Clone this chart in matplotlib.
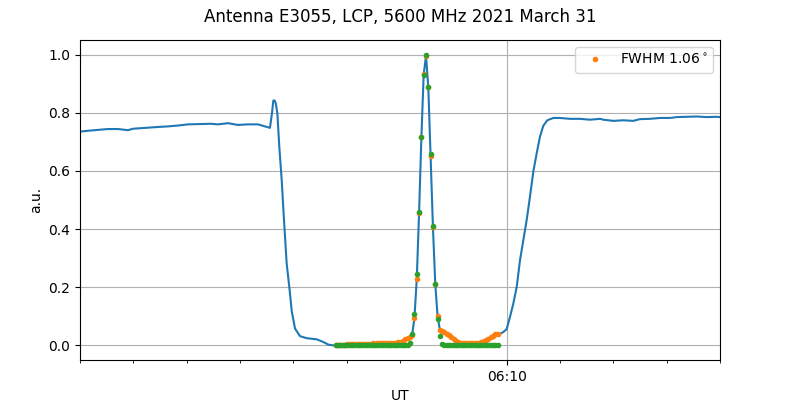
"""Antenna scan plot: LCP 5600 MHz."""

import matplotlib

matplotlib.use("Agg")
import matplotlib.dates as mdates
import matplotlib.pyplot as plt
import numpy as np

title = "Antenna E3055, LCP, 5600 MHz 2021 March 31"
day_start = np.datetime64("2021-03-31T06:00:00")

# blue trace before the scan window (seconds after 06:00, a.u.)
pre_t = [120, 129, 140.2, 151.5, 162.7, 174, 179.6, 193.1, 207.7, 219,
         230.2, 241.5, 252.7, 267.4, 275.2, 286.5, 297.7, 309, 320.2, 328.1,
         333.7, 336.0, 337.5, 339.0, 340.2, 342.0, 344.2, 346.9, 349.5, 352.5,
         355.5, 358.2, 361.9, 367.5, 375.0, 386.3, 393.7, 399.3, 405.0]
pre_v = [0.735, 0.738, 0.741, 0.744, 0.744, 0.740, 0.745, 0.748, 0.751, 0.753,
         0.756, 0.760, 0.761, 0.762, 0.760, 0.764, 0.758, 0.760, 0.760, 0.753,
         0.748, 0.799, 0.842, 0.842, 0.833, 0.799, 0.684, 0.569, 0.431, 0.282,
         0.200, 0.118, 0.058, 0.032, 0.025, 0.021, 0.012, 0.003, 0.0]

# scan window samples
win_start = 407.85
win_step = 2.6
scan_raw = [0.002, 0.002, 0.003, 0.003, 0.003, 0.004, 0.004, 0.004, 0.005, 0.004,
            0.005, 0.005, 0.006, 0.005, 0.006, 0.006, 0.007, 0.006, 0.007, 0.007,
            0.008, 0.008, 0.008, 0.009, 0.009, 0.010, 0.010, 0.011, 0.012, 0.016,
            0.021, 0.026, 0.030, 0.036, 0.095, 0.228, 0.455, 0.715, 0.932, 0.995,
            0.887, 0.652, 0.408, 0.212, 0.101, 0.054, 0.050, 0.046, 0.041, 0.035,
            0.028, 0.022, 0.017, 0.013, 0.010, 0.009, 0.008, 0.008, 0.007, 0.007,
            0.008, 0.008, 0.009, 0.011, 0.014, 0.018, 0.023, 0.029, 0.034, 0.038,
            0.040]
scan_corr = [0.0, 0.0, 0.0, 0.0, 0.0, 0.0, 0.0, 0.0, 0.0, 0.0,
             0.0, 0.0, 0.0, 0.0, 0.0, 0.0, 0.0, 0.0, 0.0, 0.0,
             0.0, 0.0, 0.0, 0.0, 0.0, 0.0, 0.0, 0.0, 0.0, 0.0,
             0.0, 0.002, 0.008, 0.038, 0.107, 0.245, 0.460, 0.717, 0.928, 1.0,
             0.890, 0.658, 0.410, 0.210, 0.092, 0.033, 0.006, 0.0, 0.0, 0.0,
             0.0, 0.0, 0.0, 0.0, 0.0, 0.0, 0.0, 0.0, 0.0, 0.0,
             0.0, 0.0, 0.0, 0.0, 0.0, 0.0, 0.0, 0.0, 0.0, 0.0,
             0.0]
fwhm_label = r"FWHM 1.06$^\circ$"

# blue trace after the scan window
post_t = [592.5, 596.2, 600.0, 603.7, 607.5, 611.3, 615.0, 618.7, 622.5, 626.2,
          630.0, 633.8, 637.5, 641.2, 645.7, 652.5, 660.0, 671.2, 682.5, 693.7,
          705.0, 708.7, 720.0, 731.2, 742.5, 750.0, 761.2, 772.5, 783.7, 791.3,
          802.5, 813.7, 825.0, 836.2, 840.0]
post_v = [0.040, 0.046, 0.056, 0.098, 0.144, 0.201, 0.293, 0.362, 0.431, 0.511,
          0.598, 0.661, 0.718, 0.755, 0.774, 0.782, 0.782, 0.779, 0.779, 0.776,
          0.779, 0.776, 0.772, 0.774, 0.772, 0.778, 0.779, 0.782, 0.782, 0.785,
          0.786, 0.787, 0.785, 0.786, 0.785]


def to_time(seconds):
    ms = np.round(np.asarray(seconds) * 1000).astype("timedelta64[ms]")
    return day_start + ms


win_t = win_start + win_step * np.arange(len(scan_raw))
blue_t = to_time(np.concatenate([pre_t, win_t, post_t]))
blue_v = np.concatenate([pre_v, scan_raw, post_v])
scan_t = to_time(win_t)

fig, ax = plt.subplots(figsize=(8, 4), dpi=100)
fig.subplots_adjust(left=0.1, right=0.9, bottom=0.1, top=0.9)

ax.plot(blue_t, blue_v, color="C0")
ax.plot(scan_t, scan_raw, ".", color="C1", label=fwhm_label)
ax.plot(scan_t, scan_corr, ".", color="C2")

ax.set_xlim(blue_t[0], blue_t[-1])
ax.xaxis.set_major_locator(mdates.MinuteLocator(byminute=range(0, 60, 10)))
ax.xaxis.set_minor_locator(mdates.MinuteLocator())
ax.xaxis.set_major_formatter(mdates.DateFormatter("%H:%M"))
ax.grid(True)

ax.set_xlabel("UT")
ax.set_ylabel("a.u.")
ax.legend(loc="upper right")
fig.suptitle(title)

fig.savefig("out.png", dpi=100)
